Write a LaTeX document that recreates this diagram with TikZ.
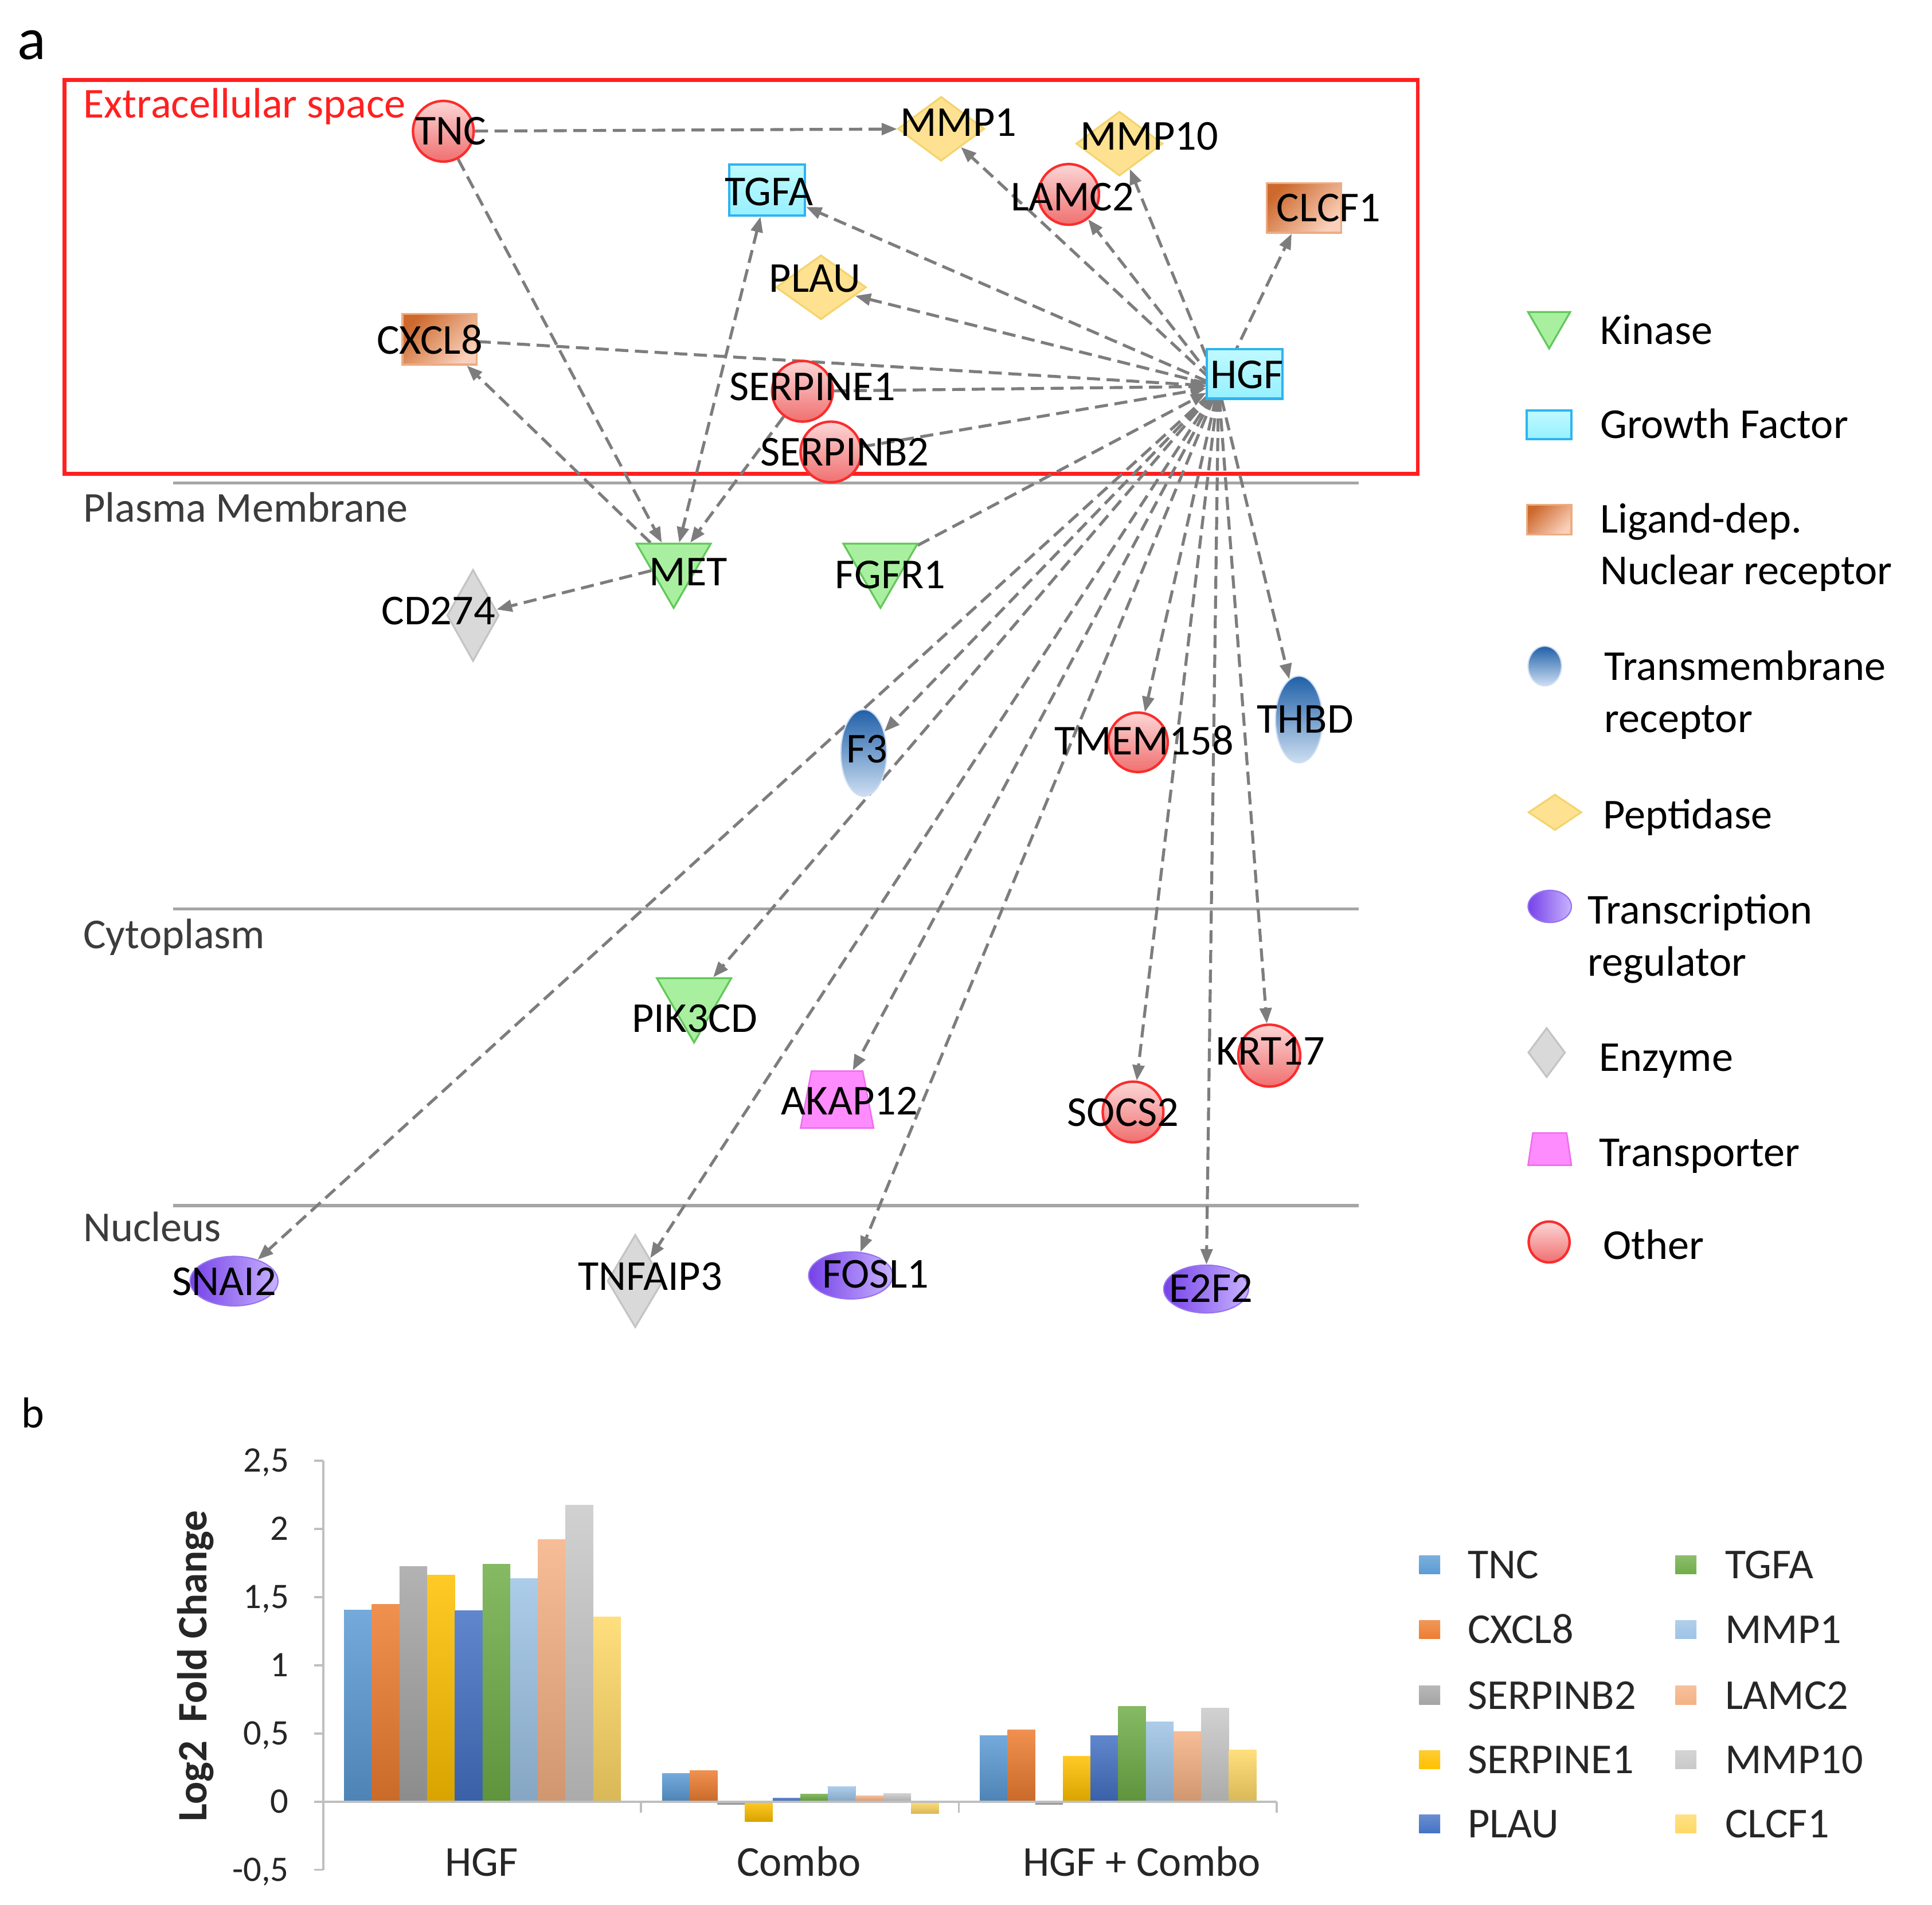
\documentclass[tikz,border=0pt]{standalone}
\usepackage{fontspec}
\setmainfont{Carlito}
\usetikzlibrary{shapes.geometric,arrows.meta}
\pgfdeclarelayer{bg}
\pgfdeclarelayer{edges}
\pgfsetlayers{bg,edges,main}

\definecolor{lgray}{RGB}{125,125,125}
\definecolor{redbox}{RGB}{255,32,32}
\definecolor{cline}{RGB}{165,165,165}
\definecolor{ctext}{RGB}{60,60,60}
\definecolor{oDraw}{RGB}{250,45,45}
\definecolor{oTop}{RGB}{252,214,214}
\definecolor{oBot}{RGB}{240,112,112}
\definecolor{gTop}{RGB}{192,250,255}
\definecolor{gBot}{RGB}{150,240,255}
\definecolor{gDraw}{RGB}{45,180,240}
\definecolor{lDark}{RGB}{205,105,45}
\definecolor{lLight}{RGB}{245,188,152}
\definecolor{lLight2}{RGB}{250,208,186}
\definecolor{lDraw}{RGB}{236,172,130}
\definecolor{pFill}{RGB}{255,226,145}
\definecolor{pDraw}{RGB}{244,212,110}
\definecolor{eFill}{RGB}{217,217,217}
\definecolor{eDraw}{RGB}{196,196,196}
\definecolor{kFill}{RGB}{168,240,160}
\definecolor{kDraw}{RGB}{98,200,90}
\definecolor{tTop}{RGB}{32,96,168}
\definecolor{tBot}{RGB}{205,222,242}
\definecolor{rLeft}{RGB}{118,66,232}
\definecolor{rRight}{RGB}{200,178,255}
\definecolor{rDraw}{RGB}{150,115,240}
\definecolor{trFill}{RGB}{255,140,255}
\definecolor{trDraw}{RGB}{238,110,238}
\definecolor{axgray}{RGB}{191,191,191}
\definecolor{txt}{RGB}{38,38,38}
\definecolor{b1}{RGB}{91,155,213}
\definecolor{b2}{RGB}{237,125,49}
\definecolor{b3}{RGB}{165,165,165}
\definecolor{b4}{RGB}{255,192,0}
\definecolor{b5}{RGB}{68,114,196}
\definecolor{b6}{RGB}{112,173,71}
\definecolor{b7}{RGB}{157,195,230}
\definecolor{b8}{RGB}{244,177,131}
\definecolor{b9}{RGB}{201,201,201}
\definecolor{b10}{RGB}{255,217,102}

\newcommand{\mylab}{\fontsize{34.4pt}{41pt}\selectfont}
\newcommand{\mytick}{\fontsize{29pt}{35pt}\selectfont}
\newcommand{\myylab}{\fontsize{33.8pt}{40pt}\selectfont\bfseries}
\newcommand{\mypanela}{\fontsize{48pt}{56pt}\selectfont}
\newcommand{\mypanelb}{\fontsize{35pt}{42pt}\selectfont}

\tikzset{
  lnk/.style={draw=lgray, line width=2.4pt, dash pattern=on 10.6pt off 5.3pt},
  arrowend/.style={-{Triangle[length=12.5pt,width=9.5pt]}, lgray},
  arrowboth/.style={{Triangle[length=12.5pt,width=9.5pt]}-{Triangle[length=12.5pt,width=9.5pt]}, lgray},
  glab/.style={inner sep=0pt, text height=22.2pt, text depth=0pt, font=\mylab, text=black},
  leglab/.style={glab, anchor=west},
  other/.style={circle, inner sep=0pt, minimum size=#1, draw=oDraw, line width=2pt, top color=oTop, bottom color=oBot},
  other/.default=49pt,
  growth/.style n args={2}{rectangle, inner sep=0pt, minimum width=#1, minimum height=#2, draw=gDraw, line width=2pt, top color=gTop, bottom color=gBot},
  ligand/.style n args={2}{rectangle, inner sep=0pt, minimum width=#1, minimum height=#2, draw=lDraw, line width=1.5pt, top color=lDark, middle color=lLight, bottom color=lLight2, shading angle=45},
  pept/.style n args={2}{diamond, inner sep=0pt, minimum width=#1, minimum height=#2, draw=pDraw, line width=1.5pt, fill=pFill},
  enzyme/.style n args={2}{diamond, inner sep=0pt, minimum width=#1, minimum height=#2, draw=eDraw, line width=1.5pt, fill=eFill},
  kinase/.style={regular polygon, regular polygon sides=3, shape border rotate=180, inner sep=0pt, minimum size=#1, draw=kDraw, line width=1.5pt, fill=kFill},
  kinase/.default=69.3pt,
  tmr/.style n args={2}{ellipse, inner sep=0pt, minimum width=#1, minimum height=#2, top color=tTop, bottom color=tBot, draw=tBot, line width=1pt},
  treg/.style n args={2}{ellipse, inner sep=0pt, minimum width=#1, minimum height=#2, left color=rLeft, right color=rRight, draw=rDraw, line width=1pt},
  transp/.style n args={3}{trapezium, trapezium left angle=#3, trapezium right angle=#3, trapezium stretches=true, inner sep=1pt, minimum width=#1, minimum height=#2, draw=trDraw, line width=1.2pt, fill=trFill},
  compline/.style={draw=cline, line width=2.5pt},
  comptext/.style={inner sep=0pt, anchor=west, text height=22.2pt, text depth=0pt, font=\mylab, text=ctext},
  axisline/.style={draw=axgray, line width=1.8pt},
  ticklab/.style={inner sep=0pt, anchor=east, text height=18.3pt, text depth=0pt, font=\mytick, text=txt},
  catlab/.style={inner sep=0pt, text height=22pt, text depth=0pt, font=\mylab, text=txt},
  sq/.style={rectangle, inner sep=0pt, minimum width=17pt, minimum height=15pt, top color=#1!80!white, bottom color=#1}
}

\begin{document}
\begin{tikzpicture}[x=1pt, y=-1pt]
\useasboundingbox (0,0) rectangle (1560.2,1538.4);

% compartments
\begin{pgfonlayer}{bg}
\fill[white] (0,0) rectangle (1560.2,1538.4);
\draw[draw=redbox, line width=3pt] (52,64.5) rectangle (1145,382.6);
\draw[compline] (140,390) -- (1097,390);
\draw[compline] (140,734) -- (1097,734);
\draw[compline] (140,973.6) -- (1097,973.6);
\end{pgfonlayer}

% panel labels
\node[inner sep=0pt, anchor=base west, font=\mypanela] (pa) at (14,48) {a};
\node[inner sep=0pt, anchor=base west, font=\mypanelb] (pb) at (17,1153) {b};

\node[comptext, text=redbox] (ext) at (67,84) {Extracellular space};
\node[comptext] (pm) at (67,410.5) {Plasma Membrane};
\node[comptext] (cy) at (67,755) {Cytoplasm};
\node[comptext] (nu) at (67,991.5) {Nucleus};

% gene nodes
\node[other] (TNC) at (358,106) {};
\node[glab] (TNCt) at (364,106) {TNC};
\node[pept={70pt}{52pt}] (MMP1) at (760,104) {};
\node[glab] (MMP1t) at (774,99) {MMP1};
\node[pept={70pt}{52pt}] (MMP10) at (904,116) {};
\node[glab] (MMP10t) at (928,110) {MMP10};
\node[growth={61pt}{41pt}] (TGFA) at (619.5,153.5) {};
\node[glab] (TGFAt) at (621,155) {TGFA};
\node[other] (LAMC2) at (863,157) {};
\node[glab] (LAMC2t) at (866,159) {LAMC2};
\node[ligand={60pt}{40pt}] (CLCF1) at (1053,168) {};
\node[glab] (CLCF1t) at (1073,168) {CLCF1};
\node[pept={73pt}{52pt}] (PLAU) at (663,232) {};
\node[glab] (PLAUt) at (658,225) {PLAU};
\node[ligand={60pt}{41pt}] (CXCL8) at (355,274) {};
\node[glab] (CXCL8t) at (347,275) {CXCL8};
\node[growth={61pt}{40pt}] (HGF) at (1005,302) {};
\node[glab] (HGFt) at (1007,302.5) {HGF};
\coordinate (hub) at (984,312);
\node[other] (SERPINE1) at (648,316) {};
\node[glab] (SERPINE1t) at (656,312.5) {SERPINE1};
\node[other] (SERPINB2) at (671,365) {};
\node[glab] (SERPINB2t) at (682,365) {SERPINB2};
\node[kinase] (MET) at (544,456.3) {};
\node[glab] (METt) at (556,462) {MET};
\node[kinase] (FGFR1) at (711,456.3) {};
\node[glab] (FGFR1t) at (719,464) {FGFR1};
\node[enzyme={42pt}{74pt}] (CD274) at (382,497) {};
\node[glab] (CD274t) at (354,493.5) {CD274};
\node[tmr={37pt}{70pt}] (F3) at (697.5,608) {};
\node[glab] (F3t) at (700,605) {F3};
\node[other=48pt] (TMEM158) at (919,599.5) {};
\node[glab] (TMEM158t) at (924,598.5) {TMEM158};
\node[tmr={38pt}{70pt}] (THBD) at (1049,581) {};
\node[glab] (THBDt) at (1054,581) {THBD};
\node[kinase] (PIK3CD) at (560.5,807.3) {};
\node[glab] (PIK3CDt) at (561,822.6) {PIK3CD};
\node[transp={59pt}{46pt}{78}] (AKAP12) at (676,888) {};
\node[glab] (AKAP12t) at (686,889) {AKAP12};
\node[other] (SOCS2) at (915,898) {};
\node[glab] (SOCS2t) at (907,898.4) {SOCS2};
\node[other=50pt] (KRT17) at (1025,852.5) {};
\node[glab] (KRT17t) at (1026,849) {KRT17};
\node[treg={71pt}{40pt}] (SNAI2) at (189,1034.6) {};
\node[glab] (SNAI2t) at (181,1035) {SNAI2};
\node[enzyme={45pt}{75pt}] (TNFAIP3) at (513,1034.5) {};
\node[glab] (TNFAIP3t) at (525,1031) {TNFAIP3};
\node[treg={68pt}{38pt}] (FOSL1) at (687,1030) {};
\node[glab] (FOSL1t) at (707,1029) {FOSL1};
\node[treg={68.5pt}{38.6pt}] (E2F2) at (974,1041) {};
\node[glab] (E2F2t) at (978,1040.7) {E2F2};

% connectors
\begin{pgfonlayer}{edges}
\draw[lnk, arrowend] (TNC) -- (MMP1);
\draw[lnk, arrowend] (TNC) -- (MET);
\draw[lnk, arrowend] (MET) -- (CXCL8);
\draw[lnk, arrowend] (MET) -- (CD274);
\draw[lnk, arrowboth] (TGFA) -- (MET);
\draw[lnk, arrowend] (SERPINE1) -- (MET);
\draw[lnk, arrowend, shorten >=10pt] (CXCL8) -- (hub);
\draw[lnk, arrowend, shorten >=10pt] (SERPINE1) -- (hub);
\draw[lnk, arrowend, shorten >=10pt] (SERPINB2) -- (hub);
\draw[lnk, arrowend, shorten >=11pt] (FGFR1) -- (hub);
\foreach \t in {MMP1,MMP10,LAMC2,CLCF1,TGFA,PLAU,F3,SNAI2,PIK3CD,TNFAIP3,AKAP12,FOSL1,TMEM158,SOCS2,E2F2,KRT17,THBD}
  \draw[lnk, arrowend, shorten <=10pt] (hub) -- (\t);
\end{pgfonlayer}

% legend a
\node[kinase=39.3pt] (Lkin) at (1251,261.8) {};
\node[leglab] (Lkint) at (1292,266.7) {Kinase};
\node[growth={36pt}{23pt}] (Lgf) at (1251,343) {};
\node[leglab] (Lgft) at (1292,343) {Growth Factor};
\node[ligand={36pt}{24pt}] (Llig) at (1251,419.6) {};
\node[leglab] (Lligt) at (1292,419) {Ligand-dep.};
\node[leglab] (Lligt2) at (1292,461) {Nuclear receptor};
\node[tmr={27pt}{32pt}] (Ltm) at (1247.5,537.8) {};
\node[leglab] (Ltmt) at (1295.5,538) {Transmembrane};
\node[leglab] (Ltmt2) at (1295.5,580.5) {receptor};
\node[pept={43pt}{29pt}] (Lpep) at (1255.7,656) {};
\node[leglab] (Lpept) at (1294.5,658) {Peptidase};
\node[treg={35pt}{26pt}] (Ltr) at (1251.5,732) {};
\node[leglab] (Ltrt) at (1282,735) {Transcription};
\node[leglab] (Ltrt2) at (1282,777) {regulator};
\node[enzyme={30pt}{40pt}] (Lenz) at (1249,850) {};
\node[leglab] (Lenzt) at (1291,854) {Enzyme};
\node[transp={35pt}{26pt}{82}] (Ltp) at (1251.5,928) {};
\node[leglab] (Ltpt) at (1291,931) {Transporter};
\node[other=33pt] (Loth) at (1251,1003) {};
\node[leglab] (Lotht) at (1294.5,1006) {Other};

% chart b
\foreach \v/\c [count=\j from 0] in {1.405/b1,1.448/b2,1.725/b3,1.66/b4,1.40/b5,1.743/b6,1.635/b7,1.92/b8,2.174/b9,1.355/b10}
  \fill[top color=\c!85!white, bottom color=\c!85!black] ({278+\j*22.34},1454.9) rectangle ({278+(\j+1)*22.34},{1454.9-\v*110.1});
\foreach \v/\c [count=\j from 0] in {0.207/b1,0.227/b2,-0.02/b3,-0.146/b4,0.025/b5,0.055/b6,0.11/b7,0.043/b8,0.06/b9,-0.086/b10}
  \fill[top color=\c!85!white, bottom color=\c!85!black] ({534.7+\j*22.34},1454.9) rectangle ({534.7+(\j+1)*22.34},{1454.9-\v*110.1});
\foreach \v/\c [count=\j from 0] in {0.484/b1,0.526/b2,-0.02/b3,0.333/b4,0.484/b5,0.698/b6,0.584/b7,0.514/b8,0.685/b9,0.378/b10}
  \fill[top color=\c!85!white, bottom color=\c!85!black] ({791.4+\j*22.34},1454.9) rectangle ({791.4+(\j+1)*22.34},{1454.9-\v*110.1});

\draw[axisline] (261,1179.6) -- (261,1510);
\foreach \v/\t in {2.5/{2,5},2/2,1.5/{1,5},1/1,0.5/{0,5},0/0,-0.5/{-0,5}}{
  \draw[axisline] (253.5,{1454.9-\v*110.1}) -- (261,{1454.9-\v*110.1});
  \node[ticklab] at (233.4,{1454.9-\v*110.1}) {\t};
}
\draw[axisline] (261,1454.9) -- (1031,1454.9);
\foreach \x in {517.7,774.3,1031}
  \draw[axisline] (\x,1454.9) -- (\x,1464);
\node[catlab] (c1) at (389,1504) {HGF};
\node[catlab] (c2) at (645,1504) {Combo};
\node[catlab] (c3) at (922,1504) {HGF + Combo};
\node[inner sep=0pt, rotate=90, text height=21.8pt, text depth=0pt, font=\myylab, text=txt] (ylab) at (156,1345.5) {Log2\ \ Fold Change};

% legend b
\foreach \n/\c/\y in {TNC/b1/1263.7,CXCL8/b2/1316,SERPINB2/b3/1369,SERPINE1/b4/1421,PLAU/b5/1473}{
  \node[sq=\c] (s\n) at (1154.5,\y) {};
  \node[leglab, text=txt] (l\n) at (1185,\y) {\n};
}
\foreach \n/\c/\y in {TGFA/b6/1263.7,MMP1/b7/1316,LAMC2/b8/1369,MMP10/b9/1421,CLCF1/b10/1473}{
  \node[sq=\c] (s\n) at (1361.5,\y) {};
  \node[leglab, text=txt] (l\n) at (1393,\y) {\n};
}
\end{tikzpicture}
\end{document}
